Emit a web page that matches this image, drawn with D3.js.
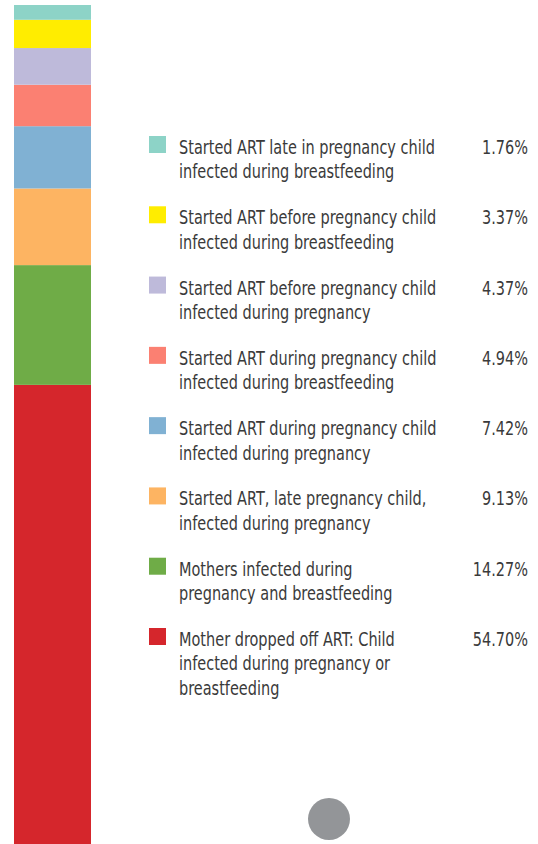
<!DOCTYPE html>
<html>
<head>
<meta charset="utf-8">
<script src="https://cdn.jsdelivr.net/npm/d3@7"></script>
<style>
	body { margin: 0; background: #fff; }
	svg { display: block; }
	text { font-family: "DejaVu Sans Condensed", "Liberation Sans Narrow", "Roboto", sans-serif; fill: #3a3a3a; }
</style>
</head>
<body>
<div id="chart"></div>
<script>
// legend order, top to bottom
var categories = [
	[ "Started ART late in pregnancy child", "infected during breastfeeding" ],
	[ "Started ART before pregnancy child", "infected during breastfeeding" ],
	[ "Started ART before pregnancy child", "infected during pregnancy" ],
	[ "Started ART during pregnancy child", "infected during breastfeeding" ],
	[ "Started ART during pregnancy child", "infected during pregnancy" ],
	[ "Started ART, late pregnancy child,", "infected during pregnancy" ],
	[ "Mothers infected during", "pregnancy and breastfeeding" ],
	[ "Mother dropped off ART: Child", "infected during pregnancy or", "breastfeeding" ]
];
var values = [ 1.76, 3.37, 4.37, 4.94, 7.42, 9.13, 14.27, 54.70 ];
var colors = [ "#8dd3c7", "#ffed00", "#bebada", "#fb8072", "#80b1d3", "#fdb462", "#6fac47", "#d5262c" ];

var width = 538, height = 844;

var svg = d3.select( "#chart" ).append( "svg" )
	.attr( "width", width )
	.attr( "height", height );

var total = d3.sum( values );

// stacked from the bottom: last category sits at the bottom
var yScale = d3.scaleLinear()
	.domain( [ 0, total ] )
	.range( [ height, 5 ] );

var stacked = [];
var acc = 0;
for ( var i = values.length - 1; i >= 0; i-- ) {
	stacked.push( { i: i, y0: acc, y1: acc + values[i] } );
	acc += values[i];
}

svg.append( "g" ).selectAll( "rect" )
	.data( stacked )
	.enter()
	.append( "rect" )
	.attr( "x", 14 )
	.attr( "width", 77 )
	.attr( "y", function( d ) { return yScale( d.y1 ); } )
	.attr( "height", function( d ) { return yScale( d.y0 ) - yScale( d.y1 ); } )
	.attr( "fill", function( d ) { return colors[d.i]; } );

// legend
var legendY = d3.scalePoint()
	.domain( d3.range( categories.length ) )
	.range( [ 138, 630 ] );

var items = svg.append( "g" ).selectAll( "g" )
	.data( categories )
	.enter()
	.append( "g" )
	.attr( "transform", function( d, i ) { return "translate(0," + legendY( i ) + ")"; } );

items.append( "rect" )
	.attr( "x", 149 )
	.attr( "y", -2 )
	.attr( "width", 17 )
	.attr( "height", 17 )
	.attr( "fill", function( d, i ) { return colors[i]; } );

// text is drawn at full height then squeezed horizontally (condensed look)
var labelG = items.append( "g" );
var labels = labelG.append( "text" )
	.attr( "x", 0 )
	.attr( "y", 16 )
	.style( "font-size", "19px" );

labels.selectAll( "tspan" )
	.data( function( d ) { return d; } )
	.enter()
	.append( "tspan" )
	.attr( "x", 0 )
	.attr( "dy", function( d, j ) { return j === 0 ? 0 : 24.5; } )
	.text( function( d ) { return d; } );

var pctG = items.append( "g" );
pctG.append( "text" )
	.attr( "x", 0 )
	.attr( "y", 16 )
	.attr( "text-anchor", "end" )
	.style( "font-size", "19px" )
	.text( function( d, i ) { return values[i].toFixed( 2 ) + "%"; } );

var probe = labels.node().firstChild.getComputedTextLength();
var k = 256 / probe;
labelG.attr( "transform", "translate(179,0) scale(" + k + ",1)" );
pctG.attr( "transform", "translate(528,0) scale(" + k + ",1)" );

svg.append( "circle" )
	.attr( "cx", 329 )
	.attr( "cy", 819 )
	.attr( "r", 21 )
	.attr( "fill", "#939598" );
</script>
</body>
</html>
